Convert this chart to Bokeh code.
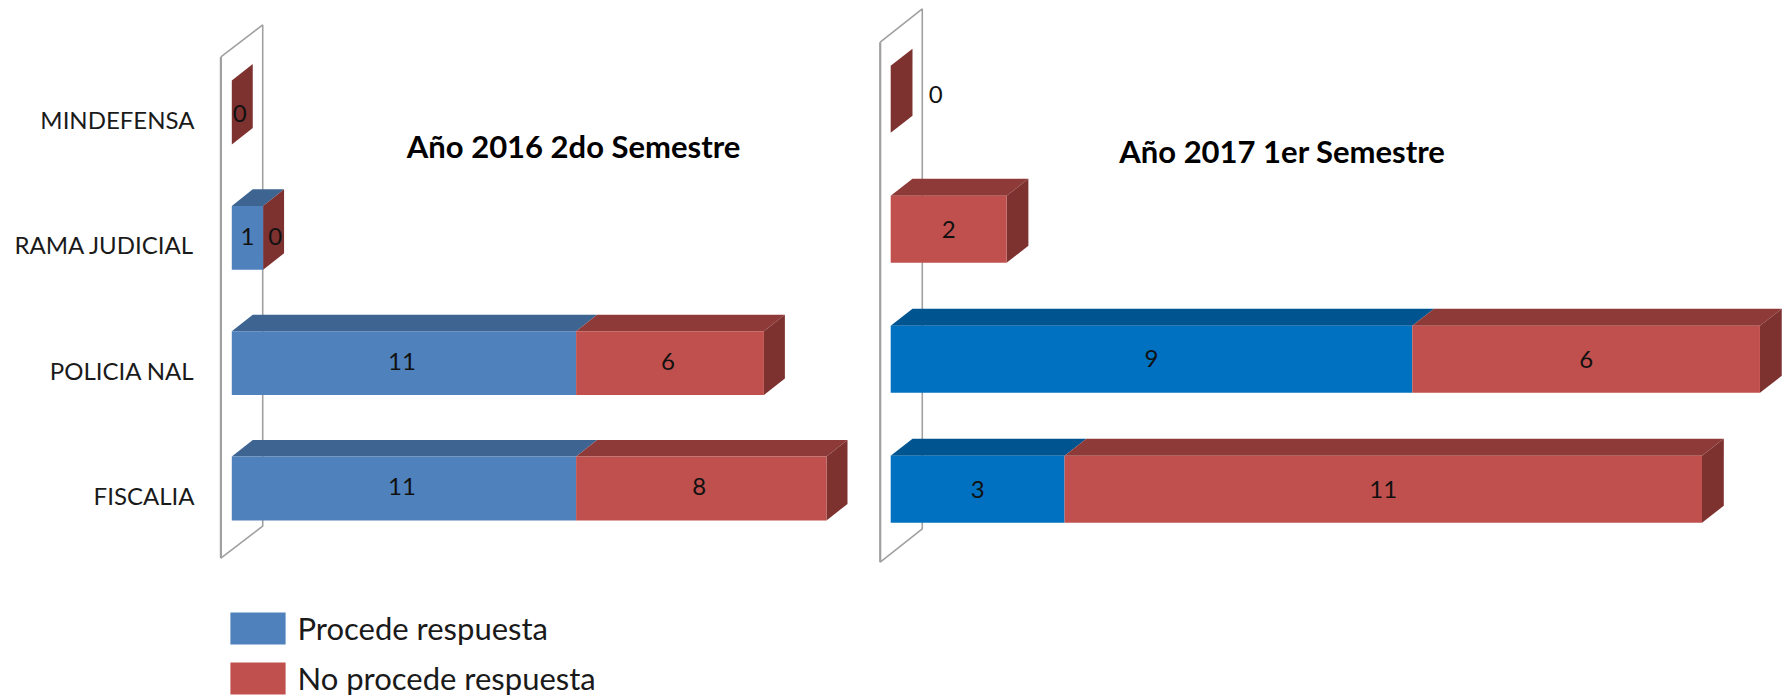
from bokeh.plotting import figure
from bokeh.layouts import row
from bokeh.models import ColumnDataSource, Label, FixedTicker
from bokeh.core.properties import value
from bokeh.embed import file_html
from bokeh.resources import INLINE

categories = ["FISCALIA", "POLICIA NAL", "RAMA JUDICIAL", "MINDEFENSA"]
series_names = ["Procede respuesta", "No procede respuesta"]
procede_2016 = [11, 11, 1, 0]
no_procede_2016 = [8, 6, 0, 0]
procede_2017 = [3, 9, 0, 0]
no_procede_2017 = [11, 6, 2, 0]
title_2016 = "Año 2016 2do Semestre"
title_2017 = "Año 2017 1er Semestre"

FONT = "Lato"
RED, RED_TOP, RED_SIDE = "#C0504D", "#8E3A38", "#7D3230"
WALL = "#A0A0A0"


def panel(width, x_range, y_range, a, b, blue, blue_top, bar_h, bar_dy,
          dx, dy, wall_x, wall_dx, wall_dy, lab_dx_a, lab_dx_b, lab_dy_a, lab_dy_b,
          title, title_xy, min_left, legend=False, axis=False):
    p = figure(width=width, height=697, x_range=x_range, y_range=y_range,
               toolbar_location=None, output_backend="svg",
               min_border_left=min_left, min_border_right=0, min_border_top=0, min_border_bottom=0)
    p.outline_line_color = None
    p.grid.visible = False
    p.xaxis.visible = False
    if axis:
        ax = p.yaxis[0]
        ax.ticker = FixedTicker(ticks=list(range(len(categories))))
        ax.major_label_overrides = {i: c for i, c in enumerate(categories)}
        ax.axis_line_color = None
        ax.major_tick_line_color = None
        ax.minor_tick_line_color = None
        ax.major_tick_out = 0
        ax.major_label_standoff = 11
        ax.major_label_text_font = FONT
        ax.major_label_text_font_size = "24px"
        ax.major_label_text_color = "#1a1a1a"
    else:
        p.yaxis.visible = False

    # back wall
    lo, hi = -0.5, len(categories) - 0.5
    p.line([wall_x, wall_x], [lo, hi], line_color=WALL, line_width=2.2)
    p.multi_line(
        [[wall_x, wall_x + wall_dx, wall_x + wall_dx, wall_x]],
        [[hi, hi + wall_dy, lo + wall_dy, lo]],
        line_color=WALL, line_width=1.6)

    ys = [i + bar_dy for i in range(len(categories))]
    ends_a = list(a)
    ends_b = [u + v for u, v in zip(a, b)]
    tops = [y + bar_h / 2 for y in ys]
    bots = [y - bar_h / 2 for y in ys]

    def top_faces(l, r):
        xs = [[s, e, e + dx, s + dx] for s, e in zip(l, r)]
        yy = [[t, t, t + dy, t + dy] for t in tops]
        return xs, yy

    xs, yy = top_faces([0] * len(a), ends_a)
    p.patches(xs, yy, fill_color=blue_top, line_color=None)
    xs, yy = top_faces(ends_a, ends_b)
    p.patches(xs, yy, fill_color=RED_TOP, line_color=None)
    p.patches([[e, e, e + dx, e + dx] for e in ends_b],
              [[b0, t, t + dy, b0 + dy] for b0, t in zip(bots, tops)],
              fill_color=RED_SIDE, line_color=None)

    kw1 = {"legend_label": series_names[0]} if legend else {}
    kw2 = {"legend_label": series_names[1]} if legend else {}
    p.hbar(y=ys, left=[0] * len(a), right=ends_a, height=bar_h, fill_color=blue, line_color=None, **kw1)
    p.hbar(y=ys, left=ends_a, right=ends_b, height=bar_h, fill_color=RED, line_color=None, **kw2)

    # value labels
    tx, ty, tt, ox, oy = [], [], [], [], []
    for i in range(len(categories)):
        if a[i] > 0:
            tx.append(a[i] / 2); ty.append(ys[i]); tt.append(str(a[i]))
            ox.append(lab_dx_a[i]); oy.append(lab_dy_a[i])
        tx.append(a[i] + b[i] / 2); ty.append(ys[i]); tt.append(str(b[i]))
        ox.append(lab_dx_b[i]); oy.append(lab_dy_b[i])
    src = ColumnDataSource(dict(x=tx, y=ty, t=tt, ox=ox, oy=oy))
    p.text("x", "y", text="t", x_offset="ox", y_offset="oy", source=src,
           text_font=value(FONT), text_font_size="24px", text_color="#111111",
           text_align="center", text_baseline="middle")

    p.add_layout(Label(x=title_xy[0], y=title_xy[1], text=title, text_font=FONT,
                       text_font_size="31px", text_font_style="bold", text_color="#000000",
                       text_align="center", text_baseline="middle"))

    if legend:
        lg = p.legend[0]
        lg.location = (17.5, -1)
        lg.border_line_color = None
        lg.background_fill_alpha = 0
        lg.padding = 0
        lg.margin = 0
        lg.spacing = 10
        lg.glyph_width = 69
        lg.glyph_height = 40
        lg.label_height = 40
        lg.label_standoff = 6
        lg.label_text_font = FONT
        lg.label_text_font_size = "31px"
        lg.label_text_color = "#1a1a1a"
    return p


p1 = panel(870, (-0.84, 20.405), (-1.612, 3.950), procede_2016, no_procede_2016,
           "#4F81BD", "#3E6492", 0.51, 0.056, 0.67, 0.132,
           -0.348, 1.336, 0.255,
           [-2, -2, 0, 0], [-2, -2, 12, 8], [-2, -2, -1, 0], [-2, -2, -1, 1],
           title_2016, (10.92, 2.785), 205, legend=True, axis=True)
p2 = panel(916, (-0.3486, 15.4581), (-1.541, 3.821), procede_2017, no_procede_2017,
           "#0070C0", "#005591", 0.515, 0.0615, 0.376, 0.13,
           -0.181, 0.726, 0.257,
           [0, 0, 0, 0], [0, 0, 0, 45], [0, -1, 0, 0], [0, 0, 0, -5],
           title_2017, (6.76, 2.666), 0)

open("out.html", "w").write(file_html(row(p1, p2, spacing=0), INLINE))
